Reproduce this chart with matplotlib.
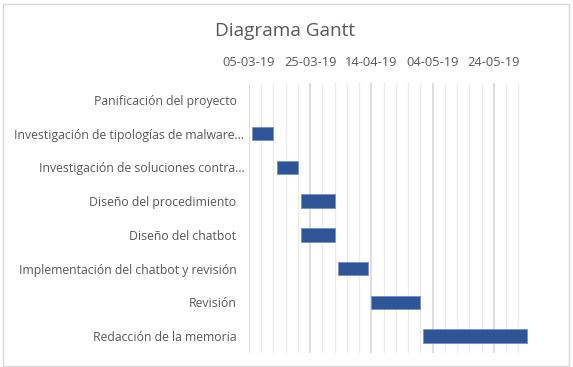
import matplotlib
matplotlib.use("Agg")
import matplotlib.pyplot as plt
import matplotlib.dates as mdates
import matplotlib.transforms as mtransforms
from matplotlib.patches import Rectangle
import datetime as dt

# ---- data ----
tasks = [
    "Panificación del proyecto",
    "Investigación de tipologías de malware…",
    "Investigación de soluciones contra…",
    "Diseño del procedimiento",
    "Diseño del chatbot",
    "Implementación del chatbot y revisión",
    "Revisión",
    "Redacción de la memoria",
]
starts = ["05-03-19", "06-03-19", "14-03-19", "22-03-19", "22-03-19",
          "03-04-19", "14-04-19", "01-05-19"]
durations = [0, 7, 7, 11, 11, 10, 16, 34]
axis_min = "05-03-19"
axis_max_days = 91.5
major_days = 20
minor_days = 4

plt.rcParams['font.family'] = ['Open Sans', 'DejaVu Sans']
TXT = '#595959'

def d(s):
    return dt.datetime.strptime(s, "%d-%m-%y")

x0 = mdates.date2num(d(axis_min))
start_nums = [mdates.date2num(d(s)) for s in starts]

fig = plt.figure(figsize=(5.73, 3.67), dpi=100)
W, H = 573, 367
ax = fig.add_axes([249 / W, 1 - 353 / H, (529 - 249) / W, (353 - 83) / H])

ypos = list(range(len(tasks)))
lws = [0.6 if du > 0 else 0 for du in durations]
ax.barh(ypos, durations, left=start_nums, height=0.4, color='#2F5597',
        edgecolor='#7393cc', linewidth=lws, zorder=3)

ax.set_ylim(len(tasks) - 0.5, -0.5)
ax.set_xlim(x0, x0 + axis_max_days)

# gridlines
minor_locs = [x0 + k for k in range(0, 89, minor_days)]
major_locs = [x0 + k for k in range(0, 81, major_days)]
for m in minor_locs:
    if m not in major_locs:
        ax.axvline(m, color='#EBEBEB', lw=0.9, zorder=1)
for m in major_locs:
    ax.axvline(m, color='#D4D4D4', lw=1.1, zorder=1)

ax.set_xticks(major_locs)
ax.xaxis.set_major_formatter(mdates.DateFormatter('%d-%m-%y'))
ax.xaxis.tick_top()
ax.tick_params(axis='x', length=0, pad=10, labelsize=9.3, labelcolor=TXT)
ax.set_yticks(ypos)
ax.set_yticklabels(tasks)
ax.tick_params(axis='y', length=0, pad=9, labelsize=8.85, labelcolor=TXT)
for lab in ax.get_yticklabels():
    if lab.get_text().endswith('…'):
        lab.set_transform(lab.get_transform() +
                          mtransforms.ScaledTranslation(8 / 100, 0, fig.dpi_scale_trans))
for s in ax.spines.values():
    s.set_visible(False)
ax.set_facecolor('none')

fig.text(285 / W, 1 - 31.5 / H, "Diagrama Gantt", ha='center', va='center',
         fontsize=13.7, color=TXT)

fig.patches.append(Rectangle((3 / W, 1 - 366 / H), (569 - 3) / W, (366 - 3.5) / H,
                             transform=fig.transFigure, fill=False,
                             edgecolor='#D9D9D9', lw=1))

fig.savefig("out.png", dpi=100)
